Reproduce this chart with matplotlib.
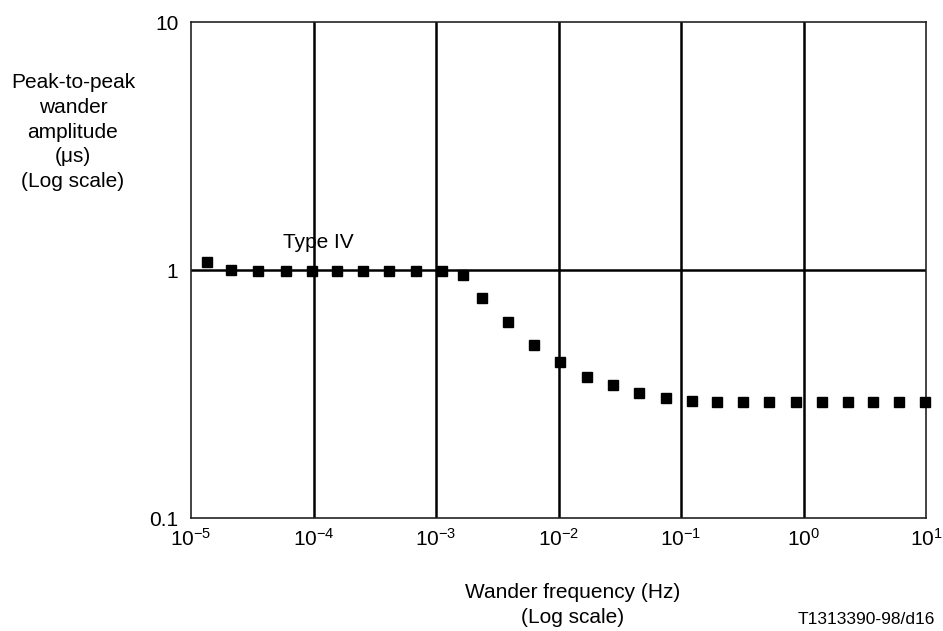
import matplotlib
matplotlib.use("Agg")
import matplotlib.pyplot as plt
from matplotlib.ticker import LogFormatterSciNotation, FixedLocator, FixedFormatter, NullLocator

plt.rcParams['font.family'] = ['Liberation Sans', 'DejaVu Sans']
plt.rcParams['mathtext.fontset'] = 'custom'
plt.rcParams['mathtext.rm'] = 'Liberation Sans'
plt.rcParams['mathtext.it'] = 'Liberation Sans'
plt.rcParams['mathtext.bf'] = 'Liberation Sans'

# Data (Type IV wander tolerance)
freq_hz = [1.34e-5, 2.11e-5, 3.54e-5, 5.93e-5, 9.67e-5, 1.55e-4, 2.52e-4, 4.16e-4,
           6.87e-4, 1.12e-3, 1.65e-3, 2.36e-3, 3.85e-3, 6.27e-3, 1.035e-2, 1.70e-2,
           2.79e-2, 4.52e-2, 7.50e-2, 0.122, 0.195, 0.323, 0.526, 0.864, 1.41, 2.32,
           3.72, 6.02, 9.8]
amp_us = [1.08, 1.0, 0.995, 0.995, 0.995, 0.995, 0.995, 0.995,
          0.995, 0.99, 0.955, 0.769, 0.619, 0.498, 0.427, 0.369,
          0.343, 0.318, 0.306, 0.296, 0.294, 0.294, 0.294, 0.294, 0.294, 0.294,
          0.294, 0.294, 0.294]

x_ticks = [1e-5, 1e-4, 1e-3, 1e-2, 1e-1, 1e0, 1e1]
y_ticks = [0.1, 1, 10]
y_tick_labels = ["0.1", "1", "10"]

fig = plt.figure(figsize=(9.43, 6.31), dpi=100)
ax = fig.add_axes([191/943, 1 - 518/631, (926 - 191)/943, (518 - 22)/631])
ax.set_xscale('log')
ax.set_yscale('log')
ax.set_xlim(1e-5, 1e1)
ax.set_ylim(0.1, 10)

# grid lines
for xv in x_ticks[1:-1]:
    ax.axvline(xv, color='black', lw=1.8, zorder=1)
ax.axhline(1, color='black', lw=1.8, zorder=1)

ax.plot(freq_hz, amp_us, linestyle='none', marker='s', markersize=7,
        color='black', zorder=3, clip_on=False)

ax.xaxis.set_major_locator(FixedLocator(x_ticks))
ax.xaxis.set_major_formatter(LogFormatterSciNotation())
ax.xaxis.set_minor_locator(NullLocator())
ax.yaxis.set_major_locator(FixedLocator(y_ticks))
ax.yaxis.set_major_formatter(FixedFormatter(y_tick_labels))
ax.yaxis.set_minor_locator(NullLocator())
ax.tick_params(axis='both', length=0, labelsize=15, colors='black')
ax.tick_params(axis='x', pad=7)
ax.tick_params(axis='y', pad=9)
for s in ax.spines.values():
    s.set_linewidth(1.2)
    s.set_color('#222222')

fig.text(318/943, 1 - 242/631, "Type IV", ha='center', va='center', fontsize=15)

fig.text(73/943, 1 - 132/631, "Peak-to-peak\nwander\namplitude\n(\u03bcs)\n(Log scale)",
         ha='center', va='center', fontsize=15, linespacing=1.38)
fig.text(573/943, 1 - 605/631, "Wander frequency (Hz)\n(Log scale)",
         ha='center', va='center', fontsize=15, linespacing=1.38)
fig.text(935/943, 1 - 620/631, "T1313390-98/d16", ha='right', va='center', fontsize=12.5)

fig.savefig("out.png", dpi=100)
